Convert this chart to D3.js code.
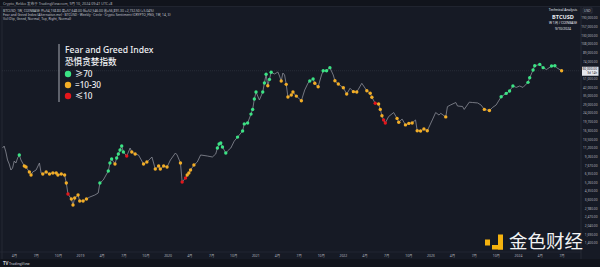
<!DOCTYPE html>
<html>
<head>
<meta charset="utf-8">
<script src="https://cdn.jsdelivr.net/npm/d3@7"></script>
<style>
html, body { margin: 0; padding: 0; background: #161a25; overflow: hidden; }
svg { display: block; font-family: "Noto Sans", "Noto Sans CJK SC", sans-serif; }
</style>
</head>
<body>
<div id="chart"></div>
<script>
// weekly closes of BTCUSD, week number counted from 2018-02-12
var startDate = new Date(2018, 1, 12);
var weeks = [0,1,2,3,4,5,6,7,8,9,10,11,13,14,16,17,18,20,22,23,24,26,28,30,32,33,35,37,38,39,41,42,43,45,46,48,50,52,55,57,58,60,63,64,65,67,68,69,70,71,72,74,76,77,79,81,84,86,89,91,93,94,96,98,100,103,104,106,107,109,110,111,112,114,116,118,122,125,127,128,129,130,131,133,134,136,138,140,143,144,146,148,149,150,151,153,155,156,157,158,159,160,162,163,164,165,166,167,168,169,170,172,173,175,178,180,182,183,185,186,188,190,191,193,195,197,198,200,203,205,207,209,211,214,217,219,220,222,224,225,226,227,228,230,233,235,236,238,240,242,244,246,247,249,251,253,256,258,260,261,264,265,267,270,271,274,275,278,280,283,285,287,290,292,294,297,300,302,304,306,308,310,313,314,316,317,320,322,324,327,329,330,333];
// close in thousand USD
var closes = [11.1,11.6,10.2,8.55,7.83,6.87,7.18,8.36,8.01,8.93,9.54,8.55,7.5,7.34,6.58,6.16,6.58,6.87,8.01,6.43,6.3,6.58,6.3,6.43,6.43,6.16,6.3,6.16,5.17,4.07,3.65,3.2,3.73,3.98,3.49,3.49,3.65,3.81,3.98,4.16,5.17,5.52,6.72,8.01,8.74,7.83,8.93,9.75,10.64,11.61,10.18,9.33,11.11,10.18,9.75,9.54,7.83,8.18,9.13,7.02,7.5,7.02,7.5,7.34,8.55,9.96,9.54,8.01,5.29,5.77,6.16,6.43,6.87,7.66,8.18,9.54,9.33,9.13,9.75,11.11,12.13,12.4,11.36,9.96,10.4,11.11,12.9,14.1,16.1,18.8,19.2,23.3,25.8,32.4,37.7,31.7,37.7,45.9,55.5,43.3,49.7,58.0,55.9,57.1,58.4,53.5,47.9,57.1,54.7,44.6,33.8,35.3,37.7,34.5,31.2,39.4,45.9,47.9,50.1,45.6,42.3,54.7,60.0,60.0,64.2,54.7,48.2,44.9,41.4,36.1,40.9,38.0,37.7,45.6,38.8,36.7,33.6,29.5,29.0,25.8,22.5,20.5,19.2,22.1,24.1,21.2,19.5,20.9,18.4,19.0,19.2,20.5,16.2,16.1,16.8,16.2,20.5,24.1,22.8,23.7,21.9,27.4,28.5,30.0,27.8,27.5,25.8,30.2,30.0,29.7,28.4,25.8,25.2,27.0,28.4,34.0,36.6,38.5,43.0,41.7,43.0,41.7,46.6,51.5,61.0,67.0,68.9,64.2,61.6,66.5,66.9,64.2,60.0];
// fear & greed class of that week: g = >=70, o = 10-30, r = <=10, "" = none
var fng = ["","","","","","","","","","","g","","o","o","o","o","","","","","o","o","o","o","o","o","o","o","o","r","o","o","o","o","o","o","o","","","","g","","g","g","g","o","g","g","g","g","g","r","","o","o","","o","o","","o","o","o","o","o","","","","o","r","r","o","o","o","o","","","","","","g","g","g","g","g","","","","g","g","g","g","g","g","g","g","","g","g","g","o","g","g","","","","","o","","","o","o","o","o","o","o","","","g","g","o","o","","g","g","g","","o","o","o","o","","o","o","","o","o","o","r","o","o","o","r","r","","","o","o","","o","o","o","","o","o","o","o","","","","","o","","","","","","","","","","","o","o","","","g","g","g","g","","","","g","g","g","g","g","g","","g","g","","o"];

var legendNames = ["\u226570", "=10-30", "\u226410"];
var legendKeys = ["g", "o", "r"];

var xTickDates = ["2018-04-01","2018-07-01","2018-10-01","2019-01-01","2019-04-01","2019-07-01","2019-10-01","2020-01-01","2020-04-01","2020-07-01","2020-10-01","2021-01-01","2021-04-01","2021-07-01","2021-10-01","2022-01-01","2022-04-01","2022-07-01","2022-10-01","2023-01-01","2023-04-01","2023-07-01","2023-10-01","2024-01-01","2024-04-01","2024-07-01"];
var xTickLabels = ["4月","7月","10月","2019","4月","7月","10月","2020","4月","7月","10月","2021","4月","7月","10月","2022","4月","7月","10月","2023","4月","7月","10月","2024","4月","7月"];
var yTicks = [190,157,130,108,89,74,61,51,42,35,29,24,19.7,16.3,13.5,11.2,9.26,7.67,6.35,5.26,4.35,3.6,2.98,2.47,2.04,1.69,1.4];

var colors = {g: "#3be384", o: "#f2ad26", r: "#e3161b"};

var width = 600, height = 267;

var svg = d3.select("#chart")
  .append("svg")
    .attr("width", width)
    .attr("height", height);

svg.append("rect").attr("width", width).attr("height", height).attr("fill", "#161a25");

function weekDate(w) { return new Date(startDate.getTime() + w * 7 * 864e5); }

var data = weeks.map(function(w, i) {
  return {date: weekDate(w), close: closes[i], fng: fng[i]};
});

// scales
var x = d3.scaleTime()
  .domain([startDate, weekDate(333)])
  .range([2.5, 561.6]);

var y = d3.scaleLog()
  .domain([1, 200])
  .range([258.3, 15.6]);

// header band
svg.append("rect").attr("x", 0).attr("y", 0).attr("width", width).attr("height", 6.5).attr("fill", "#11141c");
svg.append("text").attr("x", 3).attr("y", 4.5).attr("font-size", 3.6).attr("fill", "#b2b5be")
  .text("Crypto_Rekko 发布于 TradingView.com, 9月 10, 2024 09:41 UTC+8");
var headLines = [
  "BTCUSD, 1W, COINBASE   \u5f00=54,158.80  \u9ad8=57,648.00  \u4f4e=52,546.00  \u6536=56,891.30  +2,732.50 (+5.04%)",
  "Fear and Greed Index (Alternative.me) \u00b7 BTCUSD \u00b7 Weekly \u00b7 Circle \u00b7 Crypto Sentiment (CRYPTO_FNG, 1W, 14, 3)",
  "Vol (Dip, Greed, Normal, Top, Right, Normal)"
];
svg.selectAll(".hl").data(headLines).enter().append("text")
  .attr("x", 3).attr("y", function(d, i) { return 11.5 + i * 4.3; })
  .attr("font-size", 3.3).attr("fill", "#c3c6ce").text(function(d) { return d; });

// frame lines
svg.append("line").attr("x1", 0).attr("x2", width).attr("y1", 6.5).attr("y2", 6.5).attr("stroke", "#2a2e39").attr("stroke-width", 0.6);
svg.append("line").attr("x1", 2).attr("x2", 2).attr("y1", 6.5).attr("y2", 259).attr("stroke", "#2a2e39").attr("stroke-width", 0.8);
svg.append("line").attr("x1", 581).attr("x2", 581).attr("y1", 6.5).attr("y2", 259).attr("stroke", "#2a2e39").attr("stroke-width", 0.8);
svg.append("line").attr("x1", 0).attr("x2", 581).attr("y1", 252).attr("y2", 252).attr("stroke", "#2a2e39").attr("stroke-width", 0.6);

// bottom bar
svg.append("rect").attr("x", 0).attr("y", 259).attr("width", width).attr("height", 8).attr("fill", "#11141c");
svg.append("text").attr("x", 3).attr("y", 264.6).attr("font-size", 4.4).attr("font-weight", 700).attr("fill", "#d1d4dc").text("TV");
svg.append("text").attr("x", 9).attr("y", 264.6).attr("font-size", 3.6).attr("fill", "#d1d4dc").text("TradingView");

// current price line
var last = data[data.length - 1];
svg.append("line")
  .attr("x1", 2).attr("x2", 581)
  .attr("y1", y(last.close)).attr("y2", y(last.close))
  .attr("stroke", "#3a3e4a").attr("stroke-width", 0.5).attr("stroke-dasharray", "1,1");

// X axis
var xAxis = svg.append("g")
  .attr("transform", "translate(0,252)")
  .call(d3.axisBottom(x)
    .tickValues(xTickDates.map(function(d) { return new Date(d + "T00:00:00"); }))
    .tickSize(0)
    .tickPadding(3)
    .tickFormat(function(d, i) { return xTickLabels[i]; }));
xAxis.select(".domain").remove();
xAxis.selectAll("text").attr("font-size", 3.4).attr("fill", "#b2b5be").attr("font-family", "Noto Sans, Noto Sans CJK SC");

// Y axis (right, log)
var yAxis = svg.append("g")
  .attr("transform", "translate(597.5,0)")
  .call(d3.axisLeft(y)
    .tickValues(yTicks)
    .tickSize(0)
    .tickPadding(0)
    .tickFormat(function(d) { return d3.format(",.2f")(d * 1000); }));
yAxis.select(".domain").remove();
yAxis.selectAll("text").attr("font-size", 3.2).attr("fill", "#b2b5be").attr("font-family", "Noto Sans");

svg.append("rect").attr("x", 583).attr("y", 8).attr("width", 9).attr("height", 5).attr("fill", "none").attr("stroke", "#50535e").attr("stroke-width", 0.4);
svg.append("text").attr("x", 584).attr("y", 11.8).attr("font-size", 3.3).attr("fill", "#d1d4dc").text("USD");

// last price box
var ly = y(last.close);
svg.append("rect").attr("x", 582).attr("y", ly - 4).attr("width", 16.5).attr("height", 9).attr("fill", "#e6e8ee");
svg.append("text").attr("x", 597).attr("y", ly - 0.3).attr("text-anchor", "end").attr("font-size", 3.2).attr("fill", "#131722")
  .text(d3.format(",.2f")(last.close * 1000));
svg.append("text").attr("x", 597).attr("y", ly + 3.6).attr("text-anchor", "end").attr("font-size", 3).attr("fill", "#131722").text("3d 14h");

// top right info
var info = [
  {t: "Technical Analysis", s: 3.4, y: 11, w: 400},
  {t: "BTCUSD", s: 5.6, y: 18.5, w: 700},
  {t: "W  1\u5468 / COINBASE", s: 3.3, y: 24.2, w: 400},
  {t: "9/10/2024", s: 3.4, y: 29.6, w: 400}
];
svg.selectAll(".info").data(info).enter().append("text")
  .attr("x", 563).attr("y", function(d) { return d.y; })
  .attr("text-anchor", "middle")
  .attr("font-size", function(d) { return d.s; })
  .attr("font-weight", function(d) { return d.w; })
  .attr("fill", "#e6e8ee")
  .text(function(d) { return d.t; });

// price line
var line = d3.line()
  .x(function(d) { return x(d.date); })
  .y(function(d) { return y(d.close); });

svg.append("path")
  .datum(data)
  .attr("fill", "none")
  .attr("stroke", "#8b8e98")
  .attr("stroke-width", 0.8)
  .attr("stroke-linejoin", "round")
  .attr("d", line);

// fear & greed dots
svg.selectAll(".dot")
  .data(data.filter(function(d) { return d.fng !== ""; }))
  .enter()
  .append("circle")
    .attr("cx", function(d) { return x(d.date); })
    .attr("cy", function(d) { return y(d.close); })
    .attr("r", 1.7)
    .attr("fill", function(d) { return colors[d.fng]; });

// legend
svg.append("line").attr("x1", 59).attr("x2", 59).attr("y1", 44).attr("y2", 102).attr("stroke", "#b8bbc4").attr("stroke-width", 0.9);
svg.append("text").attr("x", 65).attr("y", 53).attr("font-size", 8.6).attr("font-weight", 500).attr("fill", "#f0f1f4").text("Fear and Greed Index");
svg.append("text").attr("x", 65).attr("y", 64.5).attr("font-size", 8.6).attr("font-weight", 500).attr("fill", "#f0f1f4")
  .attr("font-family", "Noto Sans CJK SC").text("恐惧贪婪指数");

var leg = svg.selectAll(".leg").data(legendKeys).enter().append("g")
  .attr("transform", function(d, i) { return "translate(68," + (74 + i * 11) + ")"; });
leg.append("circle").attr("r", 3.2).attr("fill", function(d) { return colors[d]; });
leg.append("text").attr("x", 7).attr("y", 3).attr("font-size", 8.2).attr("font-weight", 500).attr("fill", "#f0f1f4")
  .text(function(d, i) { return legendNames[i]; });

// watermark
var wm = svg.append("g");
wm.append("rect").attr("x", 485).attr("y", 239.5).attr("width", 5).attr("height", 6).attr("fill", "#f5b20f");
wm.append("rect").attr("x", 498).attr("y", 234.5).attr("width", 5).attr("height", 15).attr("fill", "#f5b20f");
wm.append("rect").attr("x", 492).attr("y", 245).attr("width", 11).attr("height", 4.5).attr("fill", "#f5b20f");
wm.append("text").attr("x", 509).attr("y", 248.3).attr("font-size", 18.5).attr("font-family", "Noto Sans CJK SC")
  .attr("fill", "#ffffff").attr("opacity", 0.95).text("金色财经");
</script>
</body>
</html>
